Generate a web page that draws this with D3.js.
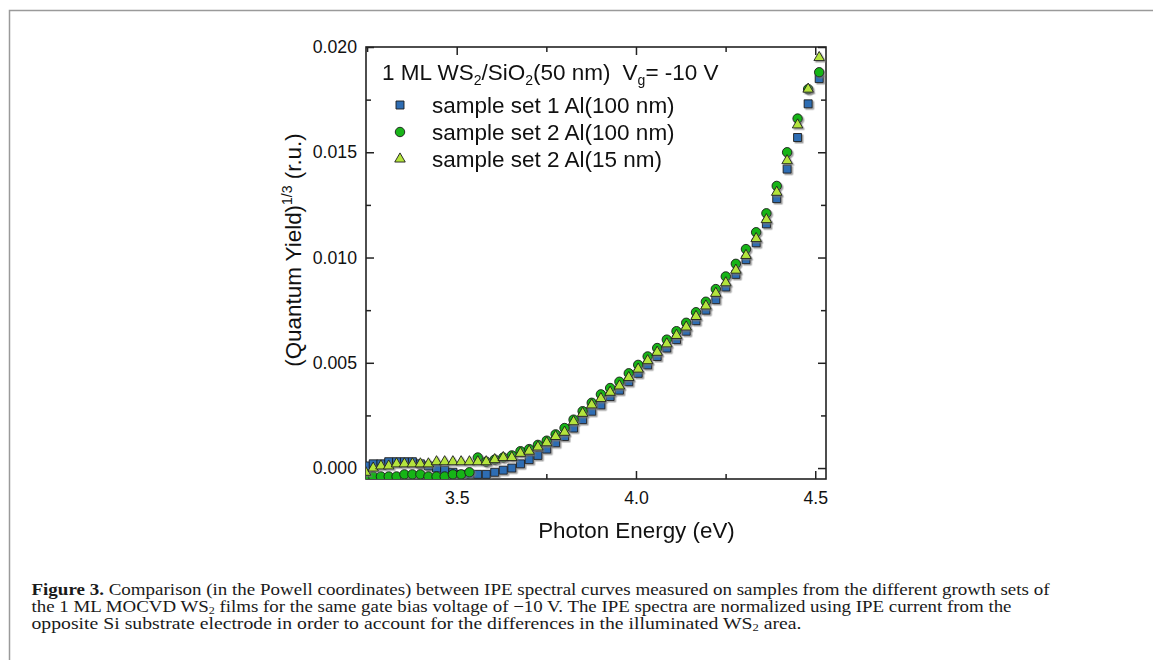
<!DOCTYPE html>
<html>
<head>
<meta charset="utf-8">
<script src="https://cdn.jsdelivr.net/npm/d3@7"></script>
<style>
  body { margin: 0; background: #fff; }
  svg { display: block; }
</style>
</head>
<body>
<div id="chart"></div>
<script>
// photon energy (eV) of each measured point
var energy = [3.2457, 3.2671, 3.2887, 3.3104, 3.3322, 3.3542, 3.3764, 3.3987, 3.4211, 3.4437,
              3.4664, 3.4893, 3.5123, 3.5355, 3.5588, 3.5823, 3.6060, 3.6298, 3.6537, 3.6778,
              3.7021, 3.7265, 3.7511, 3.7759, 3.8008, 3.8259, 3.8512, 3.8766, 3.9022, 3.9279,
              3.9538, 3.9799, 4.0062, 4.0326, 4.0592, 4.0860, 4.1130, 4.1401, 4.1675, 4.1950,
              4.2227, 4.2505, 4.2786, 4.3068, 4.3352, 4.3638, 4.3926, 4.4216, 4.4508, 4.4802,
              4.5110];

// (quantum yield)^1/3 for the three samples
var set1Al100 = [0.0001, 0.0002, 0.0002, 0.0003, 0.0003, 0.0003, 0.0003, 0.0002, 0.0001, 0.0000,
                 -0.0001, -0.0002, -0.0003, -0.0003, -0.0003, -0.0003, -0.0002, -0.0001, 0.0000, 0.0002,
                 0.0004, 0.0006, 0.0009, 0.0012, 0.0015, 0.0019, 0.0023, 0.0027, 0.0030, 0.0034,
                 0.0037, 0.0041, 0.0045, 0.0049, 0.0053, 0.0057, 0.0061, 0.0065, 0.0070, 0.0075,
                 0.0080, 0.0086, 0.0092, 0.0099, 0.0107, 0.0116, 0.0128, 0.0142, 0.0157, 0.0173,
                 0.0185];
var set2Al100 = [-0.0004, -0.0004, -0.0004, -0.0004, -0.0004, -0.0003, -0.0003, -0.0003, -0.0004, -0.0004,
                 -0.0004, -0.0003, -0.0003, -0.0002, 0.0005, 0.0003, 0.0004, 0.0005, 0.0006, 0.0008,
                 0.0009, 0.0011, 0.0013, 0.0016, 0.0019, 0.0023, 0.0027, 0.0031, 0.0035, 0.0038,
                 0.0041, 0.0045, 0.0049, 0.0053, 0.0057, 0.0061, 0.0065, 0.0069, 0.0074, 0.0079,
                 0.0085, 0.0091, 0.0097, 0.0104, 0.0112, 0.0121, 0.0134, 0.0150, 0.0166, 0.0180,
                 0.0188];
var set2Al15 = [-0.0002, 0.0000, 0.0001, 0.0001, 0.0002, 0.0002, 0.0002, 0.0002, 0.0002, 0.0003,
                0.0003, 0.0003, 0.0003, 0.0003, 0.0003, 0.0003, 0.0004, 0.0005, 0.0005, 0.0007,
                0.0008, 0.0010, 0.0012, 0.0015, 0.0017, 0.0022, 0.0026, 0.0030, 0.0033, 0.0036,
                0.0039, 0.0043, 0.0047, 0.0051, 0.0055, 0.0059, 0.0063, 0.0067, 0.0072, 0.0077,
                0.0083, 0.0088, 0.0094, 0.0101, 0.0109, 0.0118, 0.0131, 0.0146, 0.0163, 0.0180,
                0.0195];

var xTicks = [3.5, 4.0, 4.5];
var xMinor = [3.25, 3.75, 4.25];
var yTicks = [0.000, 0.005, 0.010, 0.015, 0.020];
var yMinor = [0.0025, 0.0075, 0.0125, 0.0175];
var legendNames = ["sample set 1 Al(100 nm)", "sample set 2 Al(100 nm)", "sample set 2 Al(15 nm)"];

var width = 1153, height = 660;
var svg = d3.select("#chart").append("svg")
    .attr("width", width)
    .attr("height", height);

// soft grey shadow behind the markers, like the original plot
var defs = svg.append("defs");
defs.append("filter").attr("id", "shadow")
    .attr("x", "-50%").attr("y", "-50%").attr("width", "200%").attr("height", "200%")
  .append("feDropShadow")
    .attr("dx", 1.5).attr("dy", 1.5).attr("stdDeviation", 0.6)
    .attr("flood-color", "#777").attr("flood-opacity", 0.7);

// page frame round the figure
svg.append("rect")
    .attr("x", 9.5).attr("y", 10.5)
    .attr("width", 1200).attr("height", 700)
    .attr("fill", "none")
    .attr("stroke", "#9a9a9a")
    .attr("stroke-width", 1.5);

var plot = {left: 366, top: 47, right: 826, bottom: 479};

var x = d3.scaleLinear().domain([3.247, 4.53]).range([plot.left, plot.right]);
var y = d3.scaleLinear().domain([-0.00052, 0.020]).range([plot.bottom, plot.top]);

defs.append("clipPath").attr("id", "clip")
  .append("rect")
    .attr("x", plot.left).attr("y", plot.top)
    .attr("width", plot.right - plot.left).attr("height", plot.bottom - plot.top);

var sans = "'Liberation Sans', Arial, sans-serif";

// axes, all ticks pointing inwards
function styleAxis(g) {
  g.select(".domain").remove();
  g.selectAll(".tick line").attr("stroke", "#222").attr("stroke-width", 1.5);
  g.selectAll("text").attr("fill", "#111").attr("font-family", sans).attr("font-size", "17.7px");
}

svg.append("g")
    .attr("transform", "translate(0," + plot.bottom + ")")
    .call(d3.axisBottom(x).tickValues(xTicks).tickSize(-8).tickSizeOuter(0).tickPadding(12)
      .tickFormat(d3.format(".1f")))
    .call(styleAxis);
svg.append("g")
    .attr("transform", "translate(0," + plot.bottom + ")")
    .call(d3.axisBottom(x).tickValues(xMinor).tickSize(-5).tickSizeOuter(0).tickFormat(""))
    .call(styleAxis);
svg.append("g")
    .attr("transform", "translate(0," + plot.top + ")")
    .call(d3.axisTop(x).tickValues(xTicks).tickSize(-8).tickSizeOuter(0).tickFormat(""))
    .call(styleAxis);
svg.append("g")
    .attr("transform", "translate(0," + plot.top + ")")
    .call(d3.axisTop(x).tickValues(xMinor).tickSize(-5).tickSizeOuter(0).tickFormat(""))
    .call(styleAxis);

svg.append("g")
    .attr("transform", "translate(" + plot.left + ",0)")
    .call(d3.axisLeft(y).tickValues(yTicks).tickSize(-8).tickSizeOuter(0).tickPadding(9)
      .tickFormat(d3.format(".3f")))
    .call(styleAxis);
svg.append("g")
    .attr("transform", "translate(" + plot.left + ",0)")
    .call(d3.axisLeft(y).tickValues(yMinor).tickSize(-5).tickSizeOuter(0).tickFormat(""))
    .call(styleAxis);
svg.append("g")
    .attr("transform", "translate(" + plot.right + ",0)")
    .call(d3.axisRight(y).tickValues(yTicks).tickSize(-8).tickSizeOuter(0).tickFormat(""))
    .call(styleAxis);
svg.append("g")
    .attr("transform", "translate(" + plot.right + ",0)")
    .call(d3.axisRight(y).tickValues(yMinor).tickSize(-5).tickSizeOuter(0).tickFormat(""))
    .call(styleAxis);

// plot box
svg.append("rect")
    .attr("x", plot.left).attr("y", plot.top)
    .attr("width", plot.right - plot.left).attr("height", plot.bottom - plot.top)
    .attr("fill", "none")
    .attr("stroke", "#222")
    .attr("stroke-width", 1.6);

// series: drawing order squares, circles, triangles
var series = [
  {values: set1Al100, symbol: d3.symbolSquare, size: 64, fill: "#2f6db3"},
  {values: set2Al100, symbol: d3.symbolCircle, size: 70, fill: "#19b419"},
  {values: set2Al15, symbol: d3.symbolTriangle, size: 48, fill: "#b4e43c"}
];

var dataLayer = svg.append("g").attr("clip-path", "url(#clip)");
series.forEach(function(s) {
  var sym = d3.symbol().type(s.symbol).size(s.size);
  dataLayer.append("g")
      .attr("filter", "url(#shadow)")
    .selectAll("path")
    .data(energy.map(function(e, i) { return [e, s.values[i]]; }))
    .enter().append("path")
      .attr("d", sym)
      .attr("transform", function(d) { return "translate(" + x(d[0]) + "," + y(d[1]) + ")"; })
      .attr("fill", s.fill)
      .attr("stroke", "#1b1b1b")
      .attr("stroke-width", 0.9);
});

// legend
var header = svg.append("text")
    .attr("x", 382).attr("y", 80)
    .attr("font-family", sans).attr("font-size", "22.5px").attr("fill", "#111");
header.append("tspan").text("1 ML WS");
header.append("tspan").attr("font-size", "14px").attr("dy", 5).text("2");
header.append("tspan").attr("dy", -5).text("/SiO");
header.append("tspan").attr("font-size", "14px").attr("dy", 5).text("2");
header.append("tspan").attr("dy", -5).text("(50 nm)");
header.append("tspan").attr("dx", 12).text("V");
header.append("tspan").attr("font-size", "14px").attr("dy", 5).text("g");
header.append("tspan").attr("dy", -5).text("= -10 V");

var legendY = [105, 132, 159];
series.forEach(function(s, i) {
  svg.append("path")
      .attr("d", d3.symbol().type(s.symbol).size(s.size)())
      .attr("transform", "translate(400," + legendY[i] + ")")
      .attr("fill", s.fill)
      .attr("stroke", "#1b1b1b")
      .attr("stroke-width", 0.9);
  svg.append("text")
      .attr("x", 432).attr("y", legendY[i] + 7.5)
      .attr("font-family", sans).attr("font-size", "22.5px").attr("fill", "#111")
      .text(legendNames[i]);
});

// axis titles
svg.append("text")
    .attr("x", 636.5).attr("y", 538)
    .attr("text-anchor", "middle")
    .attr("font-family", sans).attr("font-size", "22.4px").attr("fill", "#111")
    .text("Photon Energy (eV)");

var yTitle = svg.append("text")
    .attr("transform", "translate(301,250) rotate(-90)")
    .attr("text-anchor", "middle")
    .attr("font-family", sans).attr("font-size", "22.4px").attr("fill", "#111");
yTitle.append("tspan").text("(Quantum Yield)");
yTitle.append("tspan").attr("font-size", "14px").attr("dy", -9).text("1/3");
yTitle.append("tspan").attr("dy", 9).text(" (r.u.)");

// caption
var serif = "'Liberation Serif', 'DejaVu Serif', serif";
var cap1 = svg.append("text")
    .attr("x", 31.5).attr("y", 595)
    .attr("font-family", serif).attr("font-size", "16.5px").attr("fill", "#1a1a1a")
    .attr("textLength", 1018).attr("lengthAdjust", "spacingAndGlyphs");
cap1.append("tspan").attr("font-weight", "bold").text("Figure 3.");
cap1.append("tspan").text(" Comparison (in the Powell coordinates) between IPE spectral curves measured on samples from the different growth sets of");

var cap2 = svg.append("text")
    .attr("x", 31.5).attr("y", 612)
    .attr("font-family", serif).attr("font-size", "16.5px").attr("fill", "#1a1a1a")
    .attr("textLength", 980).attr("lengthAdjust", "spacingAndGlyphs");
cap2.append("tspan").text("the 1 ML MOCVD WS");
cap2.append("tspan").attr("font-size", "10.5px").attr("dy", 2).text("2");
cap2.append("tspan").attr("dy", -2).text(" films for the same gate bias voltage of \u221210 V. The IPE spectra are normalized using IPE current from the");

var cap3 = svg.append("text")
    .attr("x", 31.5).attr("y", 629)
    .attr("font-family", serif).attr("font-size", "16.5px").attr("fill", "#1a1a1a")
    .attr("textLength", 770).attr("lengthAdjust", "spacingAndGlyphs");
cap3.append("tspan").text("opposite Si substrate electrode in order to account for the differences in the illuminated WS");
cap3.append("tspan").attr("font-size", "10.5px").attr("dy", 2).text("2");
cap3.append("tspan").attr("dy", -2).text(" area.");
</script>
</body>
</html>
